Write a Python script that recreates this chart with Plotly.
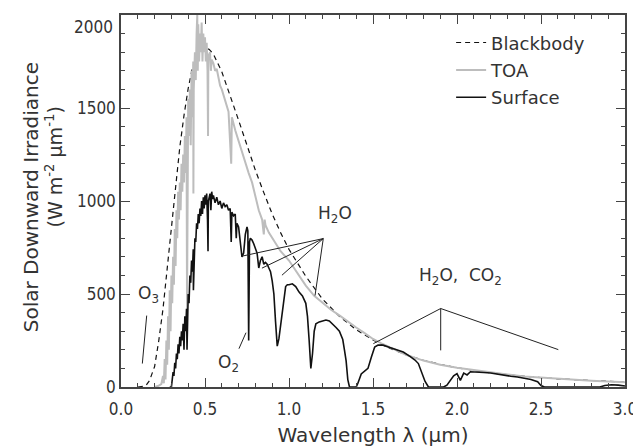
import plotly.graph_objects as go

# ---------------- data ----------------
bb_wl = [0.10, 0.13, 0.15, 0.17, 0.20, 0.225, 0.25, 0.275, 0.30, 0.325, 0.35, 0.375, 0.40,
         0.425, 0.45, 0.475, 0.50, 0.525, 0.55, 0.60, 0.65, 0.70, 0.75, 0.80, 0.85, 0.90,
         0.95, 1.00, 1.10, 1.20, 1.30, 1.40, 1.50, 1.60, 1.70, 1.80, 1.90, 2.00, 2.20,
         2.40, 2.60, 2.80, 3.00]
bb_val = [0, 3, 10, 35, 110, 250, 420, 640, 860, 1080, 1290, 1460, 1605,
          1715, 1780, 1820, 1830, 1815, 1790, 1695, 1570, 1434, 1300, 1165, 1045, 930,
          830, 740, 595, 472, 380, 308, 253, 208, 172, 144, 121, 103, 76,
          57, 44, 34, 26]

toa_wl = [0.20, 0.22, 0.24, 0.25, 0.255, 0.26, 0.265, 0.27, 0.275, 0.28, 0.285, 0.29,
          0.295, 0.30, 0.305, 0.31, 0.315, 0.32, 0.325, 0.33, 0.335, 0.34, 0.345, 0.35,
          0.355, 0.36, 0.365, 0.37, 0.375, 0.38, 0.385, 0.39, 0.393, 0.396, 0.40, 0.405,
          0.41, 0.415, 0.42, 0.425, 0.43, 0.431, 0.433, 0.44, 0.445, 0.45, 0.454, 0.457,
          0.46, 0.465, 0.47, 0.475, 0.48, 0.485, 0.49, 0.495, 0.50, 0.505, 0.51, 0.515,
          0.518, 0.52, 0.53, 0.535, 0.54, 0.55, 0.56, 0.57, 0.58, 0.59, 0.60, 0.62,
          0.64, 0.656, 0.66, 0.68, 0.70, 0.72, 0.74, 0.76, 0.78, 0.80, 0.82, 0.84,
          0.85, 0.855, 0.86, 0.88, 0.90, 0.92, 0.95, 1.00, 1.05, 1.10, 1.15, 1.20,
          1.25, 1.30, 1.35, 1.40, 1.45, 1.50, 1.55, 1.60, 1.65, 1.70, 1.80, 1.90,
          2.00, 2.10, 2.20, 2.30, 2.40, 2.50, 2.60, 2.70, 2.80, 2.90, 3.00]
toa_val = [0, 5, 15, 60, 20, 150, 40, 250, 120, 380, 200, 520,
           300, 600, 450, 700, 550, 850, 650, 950, 800, 1050, 900, 1100,
           950, 1200, 1050, 1250, 1100, 1350, 1150, 1450, 420, 1200, 1550, 1350,
           1600, 1300, 1700, 1450, 1750, 1040, 1600, 1800, 1650, 1900, 2000, 1700,
           1950, 1750, 1900, 1800, 1960, 1750, 1900, 1800, 1880, 1750, 1850, 1700,
           1350, 1780, 1800, 1700, 1760, 1740, 1700, 1710, 1660, 1620, 1600, 1540,
           1480, 1200, 1450, 1380, 1320, 1260, 1200, 1150, 1100, 1030, 950, 900,
           820, 900, 870, 830, 800, 770, 730, 680, 610, 545, 490, 450,
           415, 385, 350, 320, 290, 258, 235, 213, 192, 172, 142, 120,
           103, 90, 77, 67, 57, 50, 44, 38, 33, 29, 26]

sfc_wl = [0.29, 0.30, 0.305, 0.31, 0.315, 0.32, 0.325, 0.33, 0.335, 0.34, 0.345, 0.35,
          0.355, 0.36, 0.365, 0.37, 0.375, 0.38, 0.385, 0.39, 0.393, 0.396, 0.40, 0.405,
          0.41, 0.415, 0.42, 0.425, 0.43, 0.431, 0.435, 0.44, 0.445, 0.45, 0.455, 0.46,
          0.465, 0.47, 0.475, 0.48, 0.485, 0.49, 0.495, 0.50, 0.505, 0.51, 0.515, 0.518,
          0.52, 0.53, 0.535, 0.54, 0.545, 0.55, 0.56, 0.57, 0.58, 0.59, 0.60, 0.61,
          0.62, 0.63, 0.64, 0.65, 0.656, 0.66, 0.67, 0.68, 0.686, 0.69, 0.70, 0.71,
          0.72, 0.73, 0.74, 0.75, 0.755, 0.76, 0.765, 0.77, 0.78, 0.79, 0.80, 0.81,
          0.82, 0.83, 0.84, 0.85, 0.86, 0.87, 0.88, 0.89, 0.90, 0.91, 0.92, 0.93,
          0.94, 0.95, 0.96, 0.97, 0.98, 0.99, 1.00, 1.02, 1.04, 1.06, 1.08, 1.10,
          1.11, 1.12, 1.13, 1.14, 1.15, 1.16, 1.18, 1.20, 1.22, 1.24, 1.26, 1.28,
          1.30, 1.32, 1.33, 1.34, 1.35, 1.36, 1.40, 1.41, 1.43, 1.45, 1.47, 1.49,
          1.51, 1.53, 1.56, 1.60, 1.64, 1.68, 1.72, 1.75, 1.77, 1.79, 1.81, 1.83,
          1.92, 1.94, 1.96, 1.98, 2.00, 2.02, 2.04, 2.06, 2.08, 2.12, 2.16, 2.20,
          2.24, 2.28, 2.32, 2.36, 2.40, 2.44, 2.48, 2.50, 2.52, 2.85, 2.88, 2.92,
          2.96, 3.00]
sfc_val = [0, 0, 40, 80, 60, 130, 100, 180, 150, 230, 180, 270,
           220, 300, 250, 340, 200, 380, 300, 420, 200, 400, 500, 450,
           600, 560, 680, 620, 740, 520, 760, 800, 780, 880, 850, 930,
           880, 960, 920, 1000, 930, 1020, 960, 1030, 980, 1040, 900, 730,
           1000, 1040, 950, 1050, 1010, 1030, 990, 1020, 980, 1000, 960, 990,
           970, 980, 950, 960, 780, 940, 920, 930, 800, 880, 860, 760,
           700, 720, 820, 860, 840, 250, 780, 800, 790, 770, 740, 720,
           640, 680, 700, 660, 670, 660, 640, 620, 570, 500, 350, 220,
           260, 330, 420, 500, 540, 550, 550, 555, 540, 510, 490, 450,
           380, 250, 100, 180, 300, 340, 350, 355, 360, 355, 340, 320,
           300, 255, 200, 140, 40, 0, 0, 20, 70, 85, 100, 160,
           215, 225, 225, 212, 200, 188, 165, 145, 126, 80, 30, 0,
           0, 10, 35, 60, 72, 36, 75, 65, 82, 82, 78, 75,
           68, 63, 58, 54, 47, 40, 28, 8, 0, 0, 8, 12,
           10, 5]

x_ticks = [0.0, 0.5, 1.0, 1.5, 2.0, 2.5, 3.0]
x_tick_text = ["0.0", "0.5", "1.0", "1.5", "2.0", "2.5", "3.0"]
y_ticks = [0, 500, 1000, 1500, 2000]
y_tick_text = ["0", "500", "1000", "1500", "2000"]

# ---------------- figure ----------------
TICK_FONT = "DejaVu Sans Condensed, DejaVu Sans, sans-serif"
TEXT_FONT = "DejaVu Sans, sans-serif"
INK = "#333333"

fig = go.Figure()
fig.add_trace(go.Scatter(x=bb_wl, y=bb_val, mode="lines", name="Blackbody",
                         line=dict(color="#111111", width=1.2, dash="5px,4px"),
                         legendgroup="a"))
fig.add_trace(go.Scatter(x=toa_wl, y=toa_val, mode="lines", name="TOA",
                         line=dict(color="#bdbdbd", width=2), legendgroup="b"))
fig.add_trace(go.Scatter(x=sfc_wl, y=sfc_val, mode="lines", name="Surface",
                         line=dict(color="#111111", width=1.6), legendgroup="c"))
# empty helper trace so the overlaid label axis (y2) is drawn
fig.add_trace(go.Scatter(x=[None], y=[None], yaxis="y2", mode="lines",
                         showlegend=False, hoverinfo="skip"))

# pointer lines for absorption labels
pointers = [
    ((0.127, 126), (0.153, 384)),      # O3
    ((0.702, 206), (0.744, 292)),      # O2
    ((1.204, 798), (0.718, 703)),      # H2O
    ((1.204, 798), (0.839, 639)),
    ((1.204, 798), (0.958, 601)),
    ((1.204, 798), (1.155, 492)),
    ((1.903, 422), (1.502, 233)),      # H2O, CO2
    ((1.903, 422), (1.903, 197)),
    ((1.903, 422), (2.603, 201)),
]
for (x0, y0), (x1, y1) in pointers:
    fig.add_shape(type="line", xref="x", yref="y", x0=x0, y0=y0, x1=x1, y1=y1,
                  line=dict(color="#222222", width=1))

labels = [
    (0.161, 500, "O<sub>3</sub>"),
    (0.637, 125, "O<sub>2</sub>"),
    (1.274, 925, "H<sub>2</sub>O"),
    (2.018, 592, "H<sub>2</sub>O,  CO<sub>2</sub>"),
]
for x, y, t in labels:
    fig.add_annotation(x=x, y=y, xref="x", yref="y", text=t, showarrow=False,
                       font=dict(family=TEXT_FONT, size=17, color=INK))

# y-axis title (two lines)
fig.add_annotation(x=0, y=0.51, xref="paper", yref="paper", xshift=-104,
                   text="Solar Downward Irradiance", textangle=-90, showarrow=False,
                   font=dict(family=TEXT_FONT, size=20, color=INK))
fig.add_annotation(x=0, y=0.59, xref="paper", yref="paper", xshift=-81,
                   text="(W m<sup>-2</sup> \u03bcm<sup>-1</sup>)", textangle=-90, showarrow=False,
                   font=dict(family=TEXT_FONT, size=19, color=INK))

axis_common = dict(showline=True, linecolor="#444444", linewidth=1.5, mirror="ticks",
                   ticks="inside", ticklen=9, tickwidth=1.2, tickcolor="#444444",
                   showgrid=False, zeroline=False, automargin=False,
                   tickfont=dict(family=TICK_FONT, size=17, color=INK))

fig.update_xaxes(range=[0, 3.0], tickvals=x_ticks, ticktext=x_tick_text,
                 ticklabelstandoff=6,
                 minor=dict(ticks="inside", ticklen=4.5, dtick=0.1, tickcolor="#444444",
                            tickwidth=1, showgrid=False),
                 title=dict(text="Wavelength \u03bb (\u03bcm)", standoff=10,
                            font=dict(family=TEXT_FONT, size=20, color=INK)),
                 **axis_common)
# main y axis: all ticks, labels except the top one (drawn just below the frame,
# as in the reference, by an overlaid axis)
fig.update_yaxes(range=[0, 2000], tickvals=y_ticks,
                 ticktext=y_tick_text[:-1] + [""],
                 minor=dict(ticks="inside", ticklen=4.5, dtick=100, tickcolor="#444444",
                            tickwidth=1, showgrid=False),
                 **axis_common)

# the page adds an 8px body margin, so the figure is sized to fit the window
fig.update_layout(
    width=633, height=440,
    margin=dict(l=113, r=16, t=7, b=61, autoexpand=False),
    paper_bgcolor="white", plot_bgcolor="white",
    showlegend=True,
    yaxis2=dict(overlaying="y", side="left", range=[0, 2000],
                tickvals=y_ticks[-1:], ticktext=y_tick_text[-1:],
                ticklabelposition="outside bottom", ticklabelstandoff=7,
                ticks="", showline=False,
                showgrid=False, zeroline=False, automargin=False,
                tickfont=dict(family=TICK_FONT, size=17, color=INK)),
    legend=dict(x=0.655, y=0.975, xanchor="left", yanchor="top",
                bgcolor="rgba(0,0,0,0)", borderwidth=0, tracegroupgap=1,
                font=dict(family=TEXT_FONT, size=18, color=INK)),
)

fig.write_html("out.html")
